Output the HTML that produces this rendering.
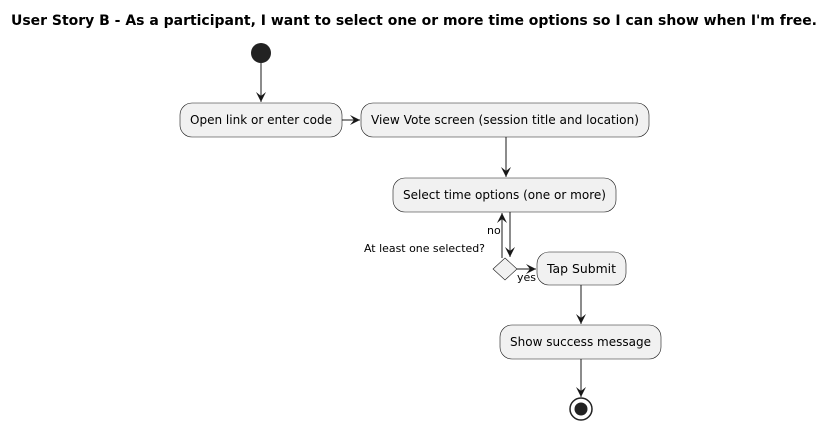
<!DOCTYPE html>
<html><head><style>html,body{margin:0;padding:0;background:#fff;}svg{display:block}</style></head>
<body>
<svg width="834" height="426" xmlns="http://www.w3.org/2000/svg" font-family="DejaVu Sans, sans-serif">
<defs><marker id="a" markerWidth="12" markerHeight="12" refX="10" refY="5" orient="auto" markerUnits="userSpaceOnUse"><path d="M0,0 L10,5 L0,10 L4,5 Z" fill="#181818"/></marker></defs>
<text x="11" y="25" font-size="14" font-weight="bold" textLength="806" lengthAdjust="spacingAndGlyphs">User Story B - As a participant, I want to select one or more time options so I can show when I'm free.</text>
<g stroke="#181818" stroke-width="1" fill="none">
<line x1="261" y1="63" x2="261" y2="102" marker-end="url(#a)"/>
<line x1="342" y1="120" x2="360" y2="120" marker-end="url(#a)"/>
<line x1="506" y1="137" x2="506" y2="177" marker-end="url(#a)"/>
<line x1="510" y1="212" x2="510" y2="257" marker-end="url(#a)"/>
<line x1="502" y1="258" x2="502" y2="213" marker-end="url(#a)"/>
<line x1="517" y1="269" x2="536" y2="269" marker-end="url(#a)"/>
<line x1="581" y1="285" x2="581" y2="324" marker-end="url(#a)"/>
<line x1="581" y1="359" x2="581" y2="397" marker-end="url(#a)"/>
</g>
<circle cx="261" cy="53" r="10" fill="#222"/>
<g fill="#f1f1f1" stroke="#181818" stroke-width="0.6">
<rect x="180" y="103" width="162" height="34" rx="12"/>
<rect x="361" y="103" width="288" height="34" rx="12"/>
<rect x="393" y="178" width="223" height="34" rx="12"/>
<rect x="537" y="252" width="89" height="33" rx="12"/>
<rect x="500" y="325" width="161" height="34" rx="12"/>
<path d="M505,258 L517,269 L505,280 L493,269 Z"/>
</g>
<circle cx="581" cy="409" r="11" fill="none" stroke="#222" stroke-width="1.5"/>
<circle cx="581" cy="409" r="6.5" fill="#222"/>
<g font-size="12" fill="#000">
<text x="190" y="124" textLength="142" lengthAdjust="spacingAndGlyphs">Open link or enter code</text>
<text x="371" y="124" textLength="268" lengthAdjust="spacingAndGlyphs">View Vote screen (session title and location)</text>
<text x="403" y="199" textLength="203" lengthAdjust="spacingAndGlyphs">Select time options (one or more)</text>
<text x="547" y="273" textLength="69" lengthAdjust="spacingAndGlyphs">Tap Submit</text>
<text x="510" y="346" textLength="141" lengthAdjust="spacingAndGlyphs">Show success message</text>
<text x="364" y="252" font-size="11" textLength="121" lengthAdjust="spacingAndGlyphs">At least one selected?</text>
<text x="487" y="234" font-size="11">no</text>
<text x="517" y="281" font-size="11">yes</text>
</g>
</svg>
</body></html>
